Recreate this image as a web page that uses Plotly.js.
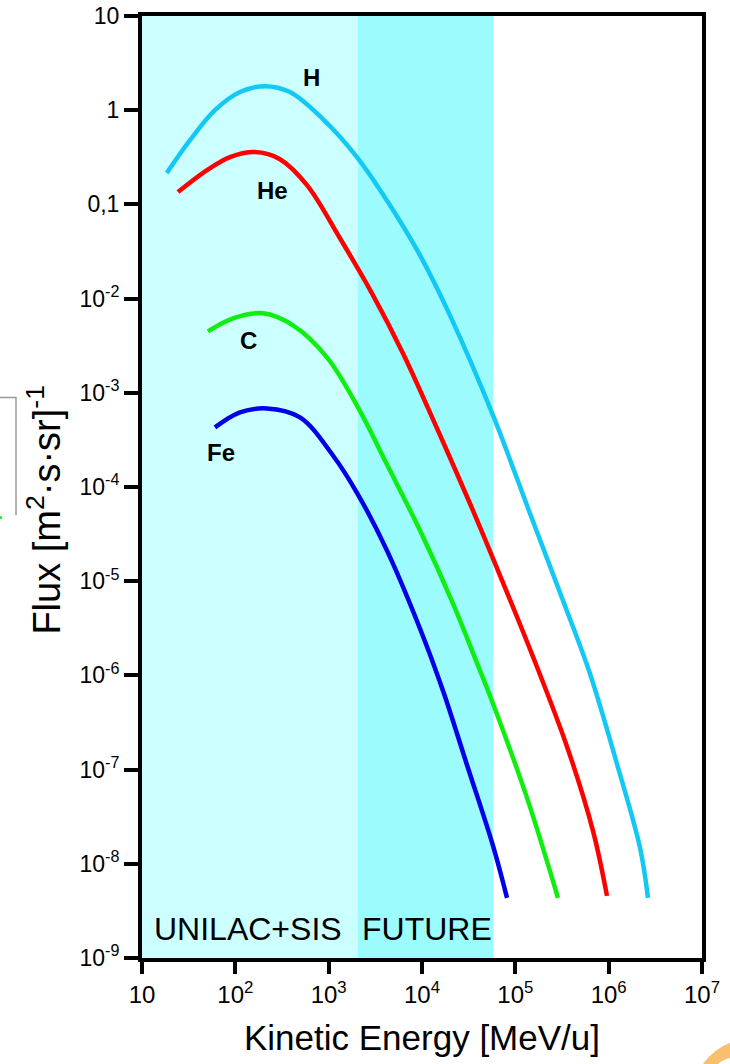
<!DOCTYPE html>
<html>
<head>
<meta charset="utf-8">
<script src="https://cdn.plot.ly/plotly-3.0.1.min.js"></script>
<style>html,body{margin:0;padding:0;background:#fff;}#chart{width:730px;height:1064px;}</style>
</head>
<body>
<div id="chart"></div>
<script>
// Energy (MeV/u) and flux ([m^2 s sr]^-1)
const hEnergy = [18.4, 32.7, 60.5, 112, 208, 385, 869, 2009, 4540, 9528, 19950, 57680, 143600, 324300, 631000, 1227000, 2167000, 2638000];
const hFlux   = [0.215, 0.481, 1.00, 1.56, 1.80, 1.56, 0.804, 0.318, 0.098, 0.0288, 6.64e-3, 5.75e-4, 5.23e-5, 6.22e-6, 1.04e-6, 1.15e-7, 1.48e-8, 4.35e-9];

const heEnergy = [24.3, 49.7, 87.7, 162.6, 301, 586, 1321, 2911, 6266, 14490, 32660, 57680, 154500, 358100, 679200, 959400];
const heFlux   = [0.135, 0.231, 0.318, 0.359, 0.302, 0.160, 0.0437, 0.01138, 2.62e-3, 4.19e-4, 6.68e-5, 1.74e-5, 1.58e-6, 1.75e-7, 2.24e-8, 4.56e-9];

const cEnergy = [50.9, 94.4, 198, 415, 959, 2061, 4217, 9528, 21480, 39810, 57680, 133400, 286400];
const cFlux   = [4.49e-3, 6.18e-3, 6.98e-3, 5.20e-3, 2.38e-3, 7.0e-4, 1.73e-4, 3.45e-5, 5.78e-6, 1.27e-6, 5.0e-7, 5.01e-8, 4.35e-9];

const feEnergy = [60.5, 112, 218, 493, 1112, 2061, 4217, 9528, 16790, 30340, 57680, 81470];
const feFlux   = [4.29e-4, 6.19e-4, 6.82e-4, 5.48e-4, 2.16e-4, 8.32e-5, 2.11e-5, 3.13e-6, 6.87e-7, 1.12e-7, 1.55e-8, 4.35e-9];

const seriesNames = ["H", "He", "C", "Fe"];

// Accelerator ranges (MeV/u)
const regionNames = ["UNILAC+SIS", "FUTURE"];
const regionStart = [10, 2050];
const regionEnd   = [2050, 58000];

const xTickVals = [10, 100, 1000, 1e4, 1e5, 1e6, 1e7];
const xTickText = ["10", "10<sup>2</sup>", "10<sup>3</sup>", "10<sup>4</sup>", "10<sup>5</sup>", "10<sup>6</sup>", "10<sup>7</sup>"];
const yTickVals = [10, 1, 0.1, 1e-2, 1e-3, 1e-4, 1e-5, 1e-6, 1e-7, 1e-8, 1e-9];
const yTickText = ["10", "1", "0,1", "10<sup>-2</sup>", "10<sup>-3</sup>", "10<sup>-4</sup>", "10<sup>-5</sup>", "10<sup>-6</sup>", "10<sup>-7</sup>", "10<sup>-8</sup>", "10<sup>-9</sup>"];

const FONT = "Liberation Sans, Arial, sans-serif";
const regionColors = ["#ccffff", "#9bfbfd"];
const traces = [];
for (let i = 0; i < regionNames.length; i++) {
  traces.push({
    x: [regionStart[i], regionEnd[i], regionEnd[i], regionStart[i], regionStart[i]],
    y: [1e-9, 1e-9, 10, 10, 1e-9],
    mode: "lines", fill: "toself", fillcolor: regionColors[i],
    line: {width: 0}, hoverinfo: "skip", showlegend: false
  });
}
const series = [
  {x: hEnergy, y: hFlux, c: "#14c8f5"},
  {x: heEnergy, y: heFlux, c: "#ff0000"},
  {x: cEnergy, y: cFlux, c: "#10ee10"},
  {x: feEnergy, y: feFlux, c: "#0000e6"}
];
series.forEach((s, i) => traces.push({
  x: s.x, y: s.y, mode: "lines", name: seriesNames[i],
  line: {color: s.c, width: 4.5, shape: "spline", smoothing: 1.0},
  showlegend: false
}));

const lg = Math.log10;
const labelPos = [[2.821, 0.352], [2.393, -0.849], [2.146, -2.443], [1.846, -3.633]];
const annotations = seriesNames.map((n, i) => ({
  text: "<b>" + n + "</b>", x: labelPos[i][0], y: labelPos[i][1],
  xref: "x", yref: "y", showarrow: false, font: {family: FONT, size: 24, color: "#000"}
}));

annotations.push(
  {text: regionNames[0], xref: "x", yref: "paper", x: lg(regionStart[0]) + 0.11, y: 0.01, xanchor: "left", yanchor: "bottom", showarrow: false, font: {family: FONT, size: 32, color: "#000"}},
  {text: regionNames[1], xref: "x", yref: "paper", x: lg(regionStart[1]) + 0.02, y: 0.01, xanchor: "left", yanchor: "bottom", showarrow: false, font: {family: FONT, size: 32, color: "#000"}},
  {text: "Flux [m<sup>2</sup>·s·sr]<sup>-1</sup>", xref: "paper", yref: "paper", x: -0.175, y: 0.476, xanchor: "center", yanchor: "middle", textangle: -90, showarrow: false, font: {family: FONT, size: 38, color: "#000"}}
);

const layout = {
  width: 730, height: 1064,
  margin: {l: 142, r: 28, t: 16, b: 106},
  paper_bgcolor: "#fff", plot_bgcolor: "#fff",
  showlegend: false,
  xaxis: {
    type: "log", range: [1, 7],
    tickvals: xTickVals, ticktext: xTickText,
    ticks: "outside", ticklen: 12, tickwidth: 4, tickcolor: "#000",
    showline: true, linewidth: 4, linecolor: "#000", mirror: true,
    showgrid: false, zeroline: false,
    tickfont: {family: FONT, size: 24, color: "#000"},
    title: {text: "Kinetic Energy [MeV/u]", font: {family: FONT, size: 35, color: "#000"}, standoff: 20}
  },
  yaxis: {
    type: "log", range: [-9, 1],
    tickvals: yTickVals, ticktext: yTickText,
    ticks: "outside", ticklen: 14, tickwidth: 4, tickcolor: "#000",
    showline: true, linewidth: 4, linecolor: "#000", mirror: true,
    showgrid: false, zeroline: false,
    tickfont: {family: FONT, size: 23, color: "#000"}
  },
  annotations: annotations,
  shapes: [
    {type: "path", xref: "paper", yref: "paper", path: "M -0.26 0.595 L -0.225 0.595 L -0.225 0.47", line: {color: "#999", width: 1.5}},
    {type: "rect", xref: "paper", yref: "paper", x0: -0.2536, x1: -0.2500, y0: 0.469, y1: 0.466, fillcolor: "#22ee22", line: {width: 0}},
    {type: "path", xref: "paper", yref: "paper", path: "M 1.0018 -0.1125 Q 1.0232 -0.0955 1.05 -0.0902 L 1.05 -0.1062 Q 1.036 -0.1083 1.0286 -0.1125 Z", fillcolor: "rgba(245,170,60,0.75)", line: {width: 0}}
  ]
};

Plotly.newPlot("chart", traces, layout, {staticPlot: true});
</script>
</body>
</html>
